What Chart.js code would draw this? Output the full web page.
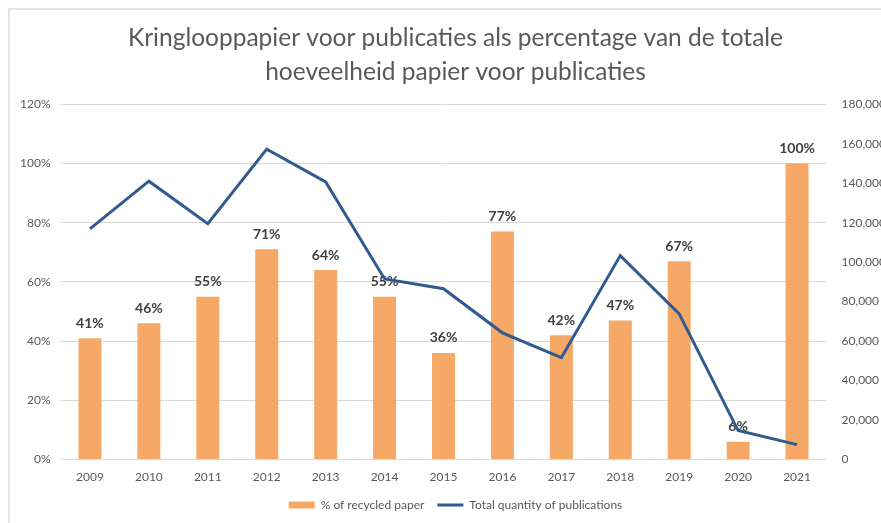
<!DOCTYPE html>
<html>
<head>
<meta charset="utf-8">
<script src="https://cdn.jsdelivr.net/npm/chart.js@4"></script>
<style>
  html, body { margin: 0; padding: 0; background: #fff; overflow: hidden; }
  #frame { position: absolute; left: 0; top: 0; width: 881px; height: 523px; overflow: hidden; }
  #edge { position: absolute; left: 8px; top: 8px; width: 2000px; height: 2000px;
          border-top: 2px solid #e3e3e3; border-left: 2px solid #e3e3e3; }
  #chart { position: absolute; left: 0; top: 0; }
</style>
</head>
<body>
<div id="frame">
  <div id="edge"></div>
  <canvas id="chart" width="914" height="523"></canvas>
</div>
<script>
const years = ["2009", "2010", "2011", "2012", "2013", "2014", "2015", "2016", "2017", "2018", "2019", "2020", "2021"];
const recycledPct = [41, 46, 55, 71, 64, 55, 36, 77, 42, 47, 67, 6, 100];
const totalPublications = [116800, 141000, 119500, 157200, 140600, 91500, 86500, 64200, 51600, 103300, 73800, 14700, 7600];

const titleLines = ["Kringlooppapier voor publicaties als percentage van de totale", "hoeveelheid papier voor publicaties"];

const textGrey = "#595959";

// percentage labels above each bar, drawn before the line so the line runs over them
const barLabels = {
    id: "barLabels",
    afterDatasetDraw(chart, args) {
        if (args.index !== 0) return;
        const ctx = chart.ctx;
        ctx.save();
        ctx.font = "bold 14px Lato";
        ctx.fillStyle = "#404040";
        ctx.textAlign = "center";
        ctx.textBaseline = "middle";
        args.meta.data.forEach((bar, i) => {
            ctx.fillText(recycledPct[i] + "%", bar.x, bar.y - 15);
        });
        ctx.restore();
    }
};

Chart.defaults.font.family = "Lato";
Chart.defaults.font.size = 12;
Chart.defaults.color = textGrey;

new Chart(document.getElementById("chart"), {
    type: "bar",
    data: {
        labels: years,
        datasets: [{
            type: "bar",
            label: "% of recycled paper",
            data: recycledPct,
            backgroundColor: "#f6a866",
            borderWidth: 0,
            yAxisID: "y",
            order: 1,
            categoryPercentage: 1,
            barPercentage: 0.39,
            pointStyle: "rect"
        }, {
            type: "line",
            label: "Total quantity of publications",
            data: totalPublications,
            borderColor: "#2f5b8f",
            backgroundColor: "#2f5b8f",
            borderWidth: 3,
            pointRadius: 0,
            tension: 0,
            yAxisID: "y1",
            order: 0,
            pointStyle: "line"
        }]
    },
    options: {
        responsive: false,
        animation: false,
        layout: { padding: { left: 10, right: 13, top: 22, bottom: 2 } },
        plugins: {
            title: {
                display: true,
                text: titleLines,
                color: textGrey,
                font: { size: 24.5, weight: "normal", lineHeight: 1.35 },
                padding: { top: 0, bottom: 16 }
            },
            legend: {
                position: "bottom",
                labels: {
                    usePointStyle: true,
                    pointStyleWidth: 26,
                    boxHeight: 7,
                    padding: 13,
                    color: textGrey,
                    font: { size: 12 },
                    sort: (a, b) => a.datasetIndex - b.datasetIndex
                }
            },
            tooltip: { enabled: false }
        },
        scales: {
            x: {
                grid: { display: false },
                border: { color: "#d9d9d9" },
                ticks: { padding: 2, color: textGrey }
            },
            y: {
                position: "left",
                min: 0,
                max: 120,
                ticks: { stepSize: 20, padding: 10, color: textGrey, callback: v => v + "%" },
                grid: { color: "#d9d9d9", drawTicks: false },
                border: { display: false }
            },
            y1: {
                position: "right",
                min: 0,
                max: 180000,
                ticks: { stepSize: 20000, padding: 15, color: textGrey, callback: v => v.toLocaleString("en-US") },
                grid: { drawOnChartArea: false, drawTicks: false },
                border: { display: false }
            }
        }
    },
    plugins: [barLabels]
});
</script>
</body>
</html>
